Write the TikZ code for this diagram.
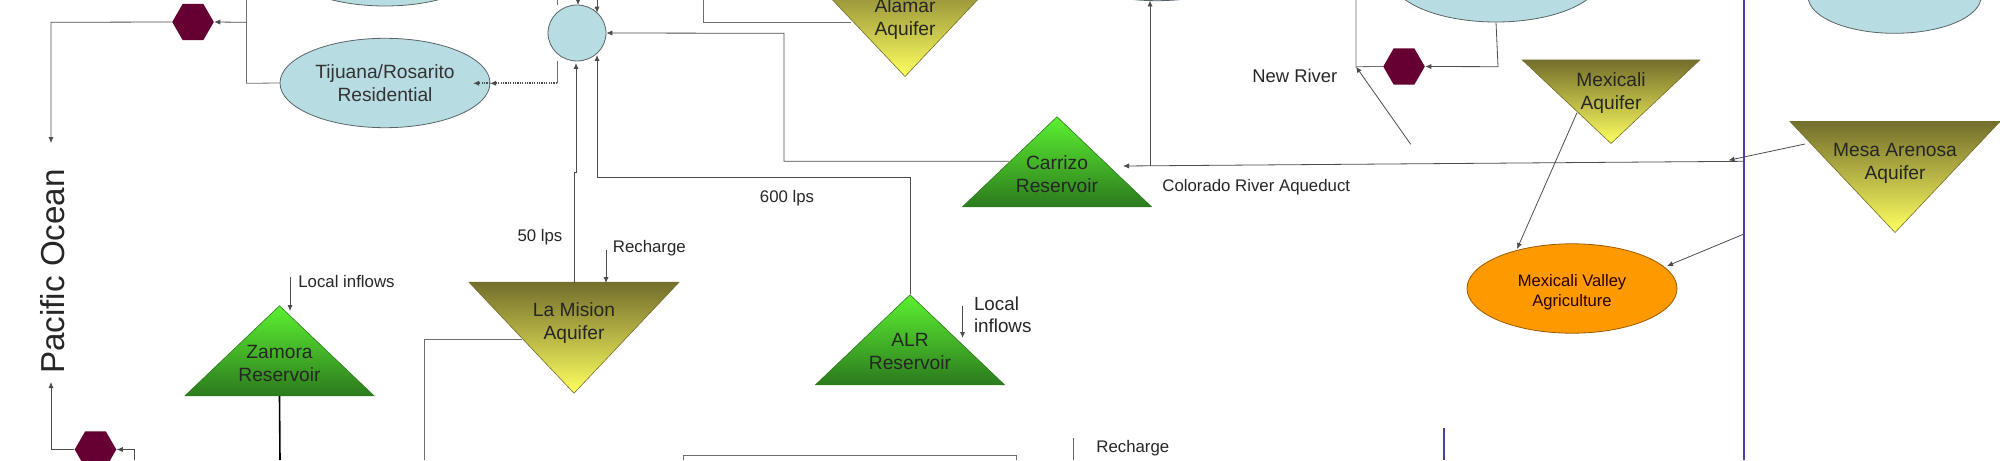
\documentclass[tikz,border=0pt]{standalone}
\usepackage{fontspec}
\setmainfont{Liberation Sans}
\usetikzlibrary{arrows.meta, shapes.geometric}
\definecolor{demandblue}{HTML}{B7DDE3}
\definecolor{edgegray}{HTML}{5A6468}
\definecolor{linegray}{HTML}{6E6E6E}
\definecolor{treatmaroon}{HTML}{660033}
\definecolor{borderblue}{HTML}{4A3FA8}
\definecolor{agorange}{HTML}{FF9900}
\definecolor{resTop}{HTML}{5CF032}
\definecolor{resLow}{HTML}{2C7A1D}
\definecolor{aqTop}{HTML}{736E2C}
\definecolor{aqLow}{HTML}{FFFF60}
\tikzset{
  flow/.style={color=linegray, line width=0.4pt},
  tipflow/.style={flow, -{Latex[length=3pt,width=2.6pt]}, color=black!70},
  dotflow/.style={tipflow, line width=1.1pt, dash pattern=on 0.6pt off 0.6pt},
  demand/.style={shape=ellipse, draw=edgegray, fill=demandblue, line width=0.4pt, inner sep=0pt,
    minimum width=105pt, minimum height=44.7pt, align=center, text=black!80,
    font=\fontsize{9.6}{11.5}\selectfont},
  treat/.style={shape=regular polygon, regular polygon sides=6,
    fill=treatmaroon, inner sep=0pt, minimum size=20.8pt},
  reservoir/.style={shape=isosceles triangle, isosceles triangle stretches, shape border rotate=90,
    draw=resLow, line width=0.3pt, top color=resTop, bottom color=resLow, inner sep=0pt,
    minimum width=94.5pt, minimum height=45pt, anchor=apex},
  aquifer/.style={shape=isosceles triangle, isosceles triangle stretches, shape border rotate=-90,
    draw=aqTop, line width=0.3pt, top color=aqTop, bottom color=aqLow, inner sep=0pt,
    minimum width=105pt, minimum height=55.5pt, anchor=apex},
  inside/.style={align=center, inner sep=0pt, text=black!85, font=\fontsize{9.6}{11.5}\selectfont},
  note/.style={inner sep=0pt, text=black!85, font=\fontsize{8.4}{10.5}\selectfont},
  border/.style={color=borderblue, line width=1pt}
}
\begin{document}
\begin{tikzpicture}[x=0.5pt, y=-0.5pt]
\clip (0,0) rectangle (2000,460);

\foreach \nm/\x/\y in {zamora/279.5/305, alr/910/294, carrizo/1057/116}
\node [reservoir] (\nm) at (\x,\y) {};
\foreach \nm/\x/\y in {mision/574/394, alamar/905/77.3, mesa/1895/233.3}
\node [aquifer] (\nm) at (\x,\y) {};
\node [aquifer, minimum width=88.8pt, minimum height=41.8pt] (mexicali) at (1611,144.3) {};

\node [demand] (tijuanaTop) at (385,-38.7) {};
\node [demand] (tijuana) at (385,83) {Tijuana/Rosarito\\Residential};
\node [demand, minimum width=29pt, minimum height=28pt] (junction) at (577,33) {};
\node [demand] (canalDemand) at (1157,-44) {};
\node [demand] (mexicaliTop) at (1496,-22.7) {};
\node [demand, minimum width=86.5pt, minimum height=36.8pt] (farRight) at (1894.6,-3.5) {};
\node [demand, fill=agorange, draw=agorange!60!black, text=black!85!red, font=\fontsize{8.3}{10}\selectfont] (agri) at (1572,288.5) {\rule{0pt}{10pt}Mexicali Valley\\Agriculture};

\node [treat] (hexNorth) at (193,22) {};
\node [treat] (hexSouth) at (95.5,449.5) {};
\node [treat] (hexNew) at (1404,66.5) {};

\node [inside] (zamoraText) at (279.5,363.5) {Zamora\\Reservoir};
\node [inside] (alrText) at (910,351) {ALR\\Reservoir};
\node [inside] (carrizoText) at (1057,174.5) {Carrizo\\Reservoir};
\node [inside] (misionText) at (574,323.5) {La Mision\\Aquifer};
\node [inside] (alamarText) at (905,19.5) {Alamar\\Aquifer};
\node [inside] (mexicaliText) at (1611,93) {Mexicali\\Aquifer};
\node [inside] (mesaText) at (1895,163.5) {Mesa Arenosa\\Aquifer};

\node [note, rotate=90, font=\fontsize{16.6}{18}\selectfont] (ocean) at (52.5,271.5) {Pacific Ocean};
\node [note] (lps50) at (540,237) {50 lps};
\node [note] (lps600) at (787,198) {600 lps};
\node [note, anchor=west] (rechargeA) at (612.5,248) {Recharge};
\node [note, anchor=west] (rechargeB) at (1096,448) {Recharge};
\node [note, anchor=west] (inflowsA) at (298,281) {Local inflows};
\node [note, anchor=west, align=left, font=\fontsize{9.4}{11}\selectfont] (inflowsB) at (973.6,315) {Local\\inflows};
\node [note, anchor=west] (aqueduct) at (1162,187) {Colorado River Aqueduct};
\node [note, anchor=west, font=\fontsize{9.2}{11}\selectfont] (newriver) at (1252,76) {New River};

\coordinate (oceanN) at (51,143);
\coordinate (oceanS) at (51,382);
\coordinate (westTop) at (246.5,0);
\coordinate (westBend) at (246.5,22.3);
\coordinate (feedTop) at (557,0);
\coordinate (feedBend) at (557,83.3);
\coordinate (dotEnd) at (473,83.3);
\coordinate (tijuanaIn) at (490,83.3);
\coordinate (arrowTopA) at (578,0);
\coordinate (arrowTopB) at (597,0);
\coordinate (arrowEndA) at (578,5);
\coordinate (arrowEndB) at (597,12.7);
\coordinate (alrIn) at (597,55);
\coordinate (misionIn) at (576,63);
\coordinate (alamarOut) at (851,22.3);
\coordinate (carrizoOut) at (1009,161.3);
\coordinate (aqueductTip) at (1123,166);
\coordinate (aqueductEnd) at (1744,161.3);
\coordinate (aqueductUp) at (1150,165.8);
\coordinate (canalTip) at (1150,0.5);
\coordinate (newTop) at (1356,0);
\coordinate (newLow) at (1410.7,144.3);
\coordinate (newTip) at (1356,66.7);
\coordinate (mesaOut) at (1805,144);
\coordinate (mesaTip) at (1728.5,160.3);
\coordinate (mexOut) at (1577,112.7);
\coordinate (agriTipA) at (1517,249);
\coordinate (borderOut) at (1744,234);
\coordinate (agriTipB) at (1667,266);

\draw [tipflow] (hexNorth.west) -- (51,22.3) -- (oceanN);
\draw [tipflow] (westBend) -- (hexNorth.east);
\draw [flow] (westTop) -- (246.5,83.3) -- (tijuana.west);
\draw [flow] (feedTop) -- (junction.north -| feedTop);
\draw [flow] (junction.south -| feedBend) -- (feedBend);
\draw [dotflow] (feedBend) -- (tijuanaIn);
\draw [dotflow] (tijuanaIn) -- (dotEnd);
\draw [tipflow] (arrowTopA) -- (arrowEndA);
\draw [tipflow] (arrowTopB) -- (arrowEndB);
\draw [tipflow] (574,283) -- (574,172) -- (576,172) -- (misionIn);
\draw [tipflow] (alr.apex) -- (910,177.3) -- (597,177.3) -- (alrIn);
\draw [tipflow] (carrizoOut) -- (784,161.3) -- (784,33.3) -- (junction.east);
\draw [flow] (alamarOut) -- (703.6,22.3) -- (703.6,0);
\draw [tipflow] (aqueductEnd) -- (aqueductTip);
\draw [tipflow] (aqueductUp) -- (canalTip);
\draw [tipflow] (mesaOut) -- (mesaTip);
\draw [tipflow] (mexOut) -- (agriTipA);
\draw [tipflow] (borderOut) -- (agriTipB);
\draw [tipflow] (newLow) -- (newTip);
\draw [flow] (newTop) -- (1356,66.7) -- (hexNew.west);
\draw [tipflow] (mexicaliTop.south) -- (1498,66.7) -- (hexNew.east);
\draw [tipflow] (606,250) -- (606,283);
\draw [tipflow] (290,277) -- (290,311);
\draw [tipflow] (962.5,306) -- (962.5,338);
\draw [flow] (522,339) -- (424,339) -- (424,460);
\draw [flow] (683.5,460) -- (683.5,455) -- (1016,455) -- (1016,460);
\draw [flow, color=black!60] (1073,438) -- (1073,460);
\draw [flow, color=black, line width=0.8pt] (zamora.lower side) -- (280,460);
\draw [tipflow] (hexSouth.west) -- (51,449.5) -- (oceanS);
\draw [tipflow] (134,460) -- (134,449.5) -- (hexSouth.east);
\draw [border] (1744,0) -- (1744,460);
\draw [border] (1444,428) -- (1444,460);
\end{tikzpicture}
\end{document}
